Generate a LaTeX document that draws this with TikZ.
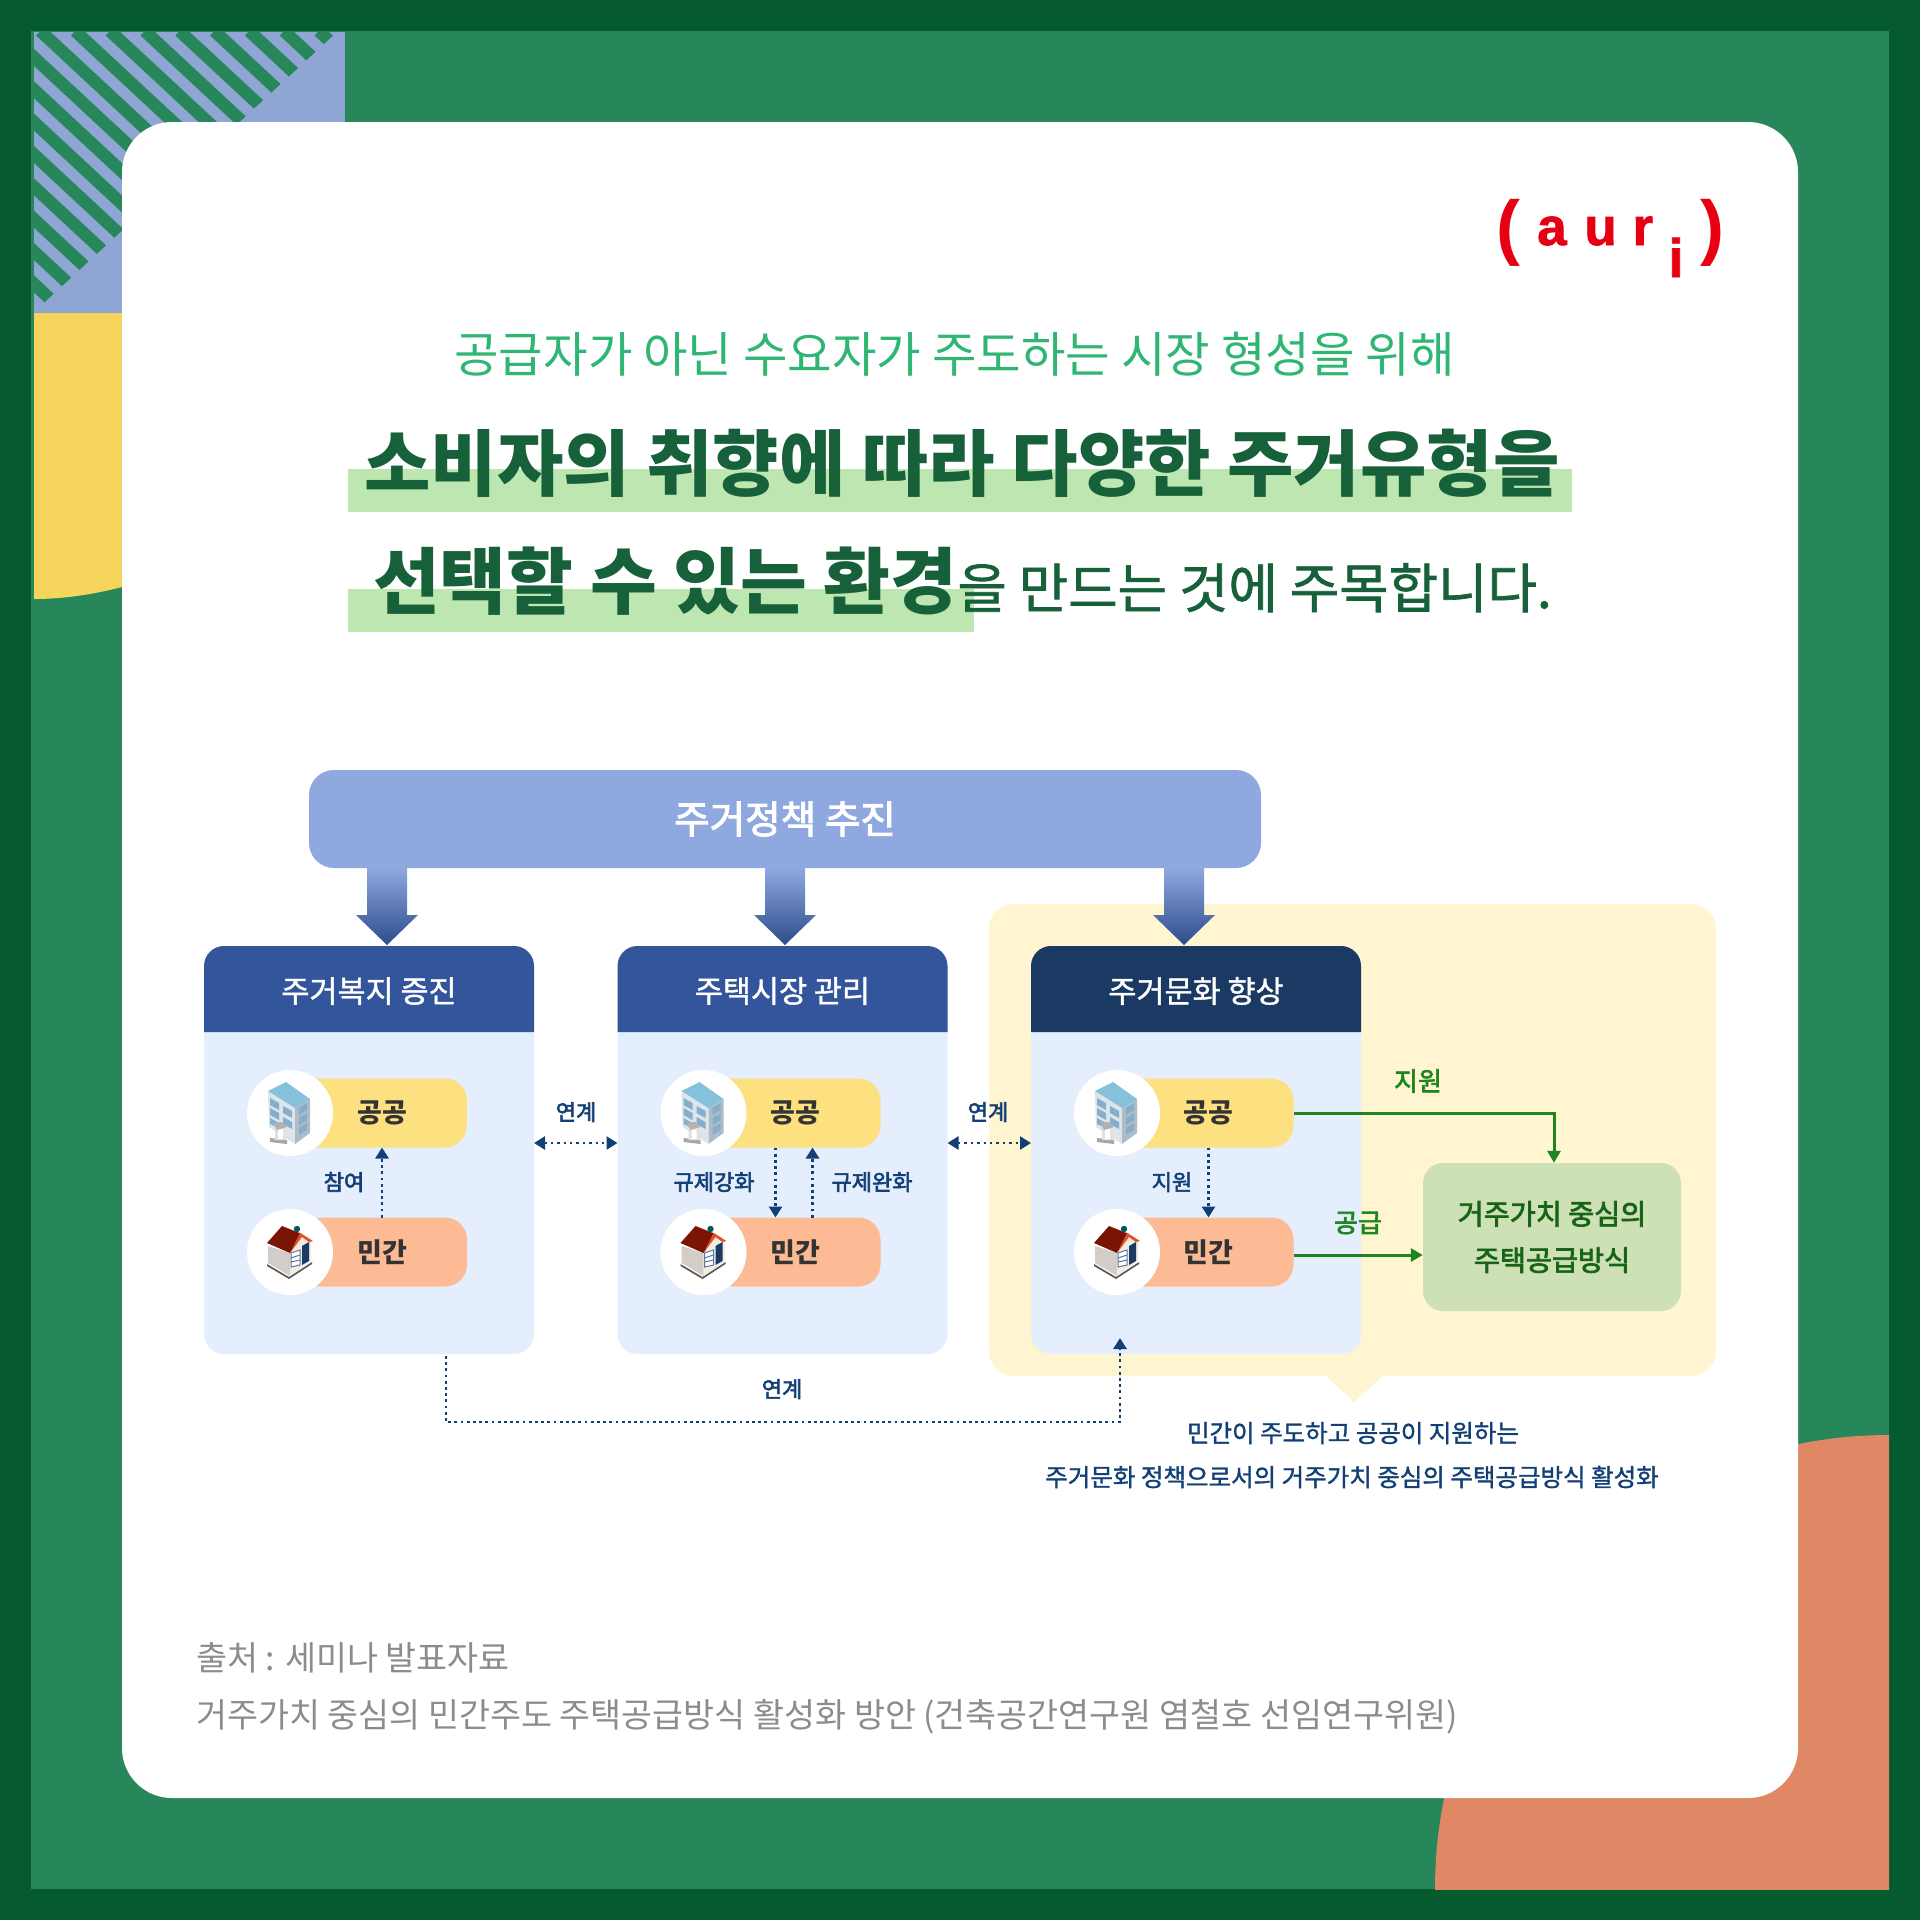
\documentclass[tikz,border=0pt]{standalone}
\usepackage{fontspec}
\usepackage{xcolor}
\setmainfont{Noto Sans CJK KR}
\newfontfamily\medfont[FakeBold=1.3]{Noto Sans CJK KR}
\newfontfamily\semifont[FakeBold=2.6]{Noto Sans CJK KR}
\newfontfamily\logofont{Liberation Sans}
\newfontfamily\logoheavy[FakeBold=1.5]{Liberation Sans Bold}
\usetikzlibrary{arrows.meta,positioning,calc}
\newcommand{\fs}[1]{\fontsize{#1}{#1}\selectfont}
\definecolor{framegreen}{HTML}{055A30}
\definecolor{fieldgreen}{HTML}{28875A}
\definecolor{barblue}{HTML}{8FA8E0}
\definecolor{patchblue}{HTML}{8FA6D4}
\definecolor{patchyellow}{HTML}{F6D55C}
\definecolor{patchorange}{HTML}{E08865}
\definecolor{headblue}{HTML}{32559B}
\definecolor{headnavy}{HTML}{1B3A63}
\definecolor{bodyblue}{HTML}{E5EEFC}
\definecolor{panelyellow}{HTML}{FFF5D0}
\definecolor{pubyellow}{HTML}{FDE080}
\definecolor{prvpeach}{HTML}{FDBB95}
\definecolor{resultgreen}{HTML}{CDE0B6}
\definecolor{markgreen}{HTML}{BDE6B0}
\definecolor{inkgreen}{HTML}{17613A}
\definecolor{leadgreen}{HTML}{2FB673}
\definecolor{arrgreen}{HTML}{1F851F}
\definecolor{navy}{HTML}{123F75}
\definecolor{aurired}{HTML}{E60012}
\definecolor{sourcegray}{HTML}{8C8C8C}
\definecolor{roofsky}{HTML}{85C0DC}
\definecolor{wallpale}{HTML}{DDE5EC}
\definecolor{wallshade}{HTML}{AEBCCA}
\definecolor{winblue}{HTML}{85AECB}
\definecolor{roofdark}{HTML}{7A1505}
\definecolor{rooflight}{HTML}{E5502A}
\definecolor{wallgray}{HTML}{D2CDC8}
\definecolor{wallcream}{HTML}{F3ECE2}

\begin{document}
\begin{tikzpicture}[
  x=1pt, y=-1pt,
  bodybox/.style={fill=bodyblue, rounded corners=20pt, minimum width=330pt, minimum height=408pt, inner sep=0pt, outer sep=0pt},
  headtxt/.style={text=white, font=\medfont\fs{30.5}},
  pill/.style={rounded corners=22pt, minimum width=170pt, minimum height=69pt, inner sep=0pt, outer sep=0pt, text=black!80, font=\fs{27}\bfseries},
  pub/.style={pill, fill=pubyellow},
  prv/.style={pill, fill=prvpeach},
  disc/.style={circle, fill=white, minimum size=86pt, inner sep=0pt},
  lbl/.style={text=navy, font=\semifont\fs{22}, inner sep=0pt},
  glbl/.style={text=arrgreen, font=\semifont\fs{26}, inner sep=0pt},
  dotto/.style={-{Triangle[length=11pt,width=13pt]}, navy, line width=2.8pt, dash pattern=on 2.8pt off 3.4pt},
  dotboth/.style={{Triangle[length=11pt,width=13pt]}-{Triangle[length=11pt,width=13pt]}, navy, line width=2.4pt, dash pattern=on 2.4pt off 4pt},
  garr/.style={-{Triangle[length=12pt,width=13pt]}, arrgreen, line width=3pt},
  bldgicon/.pic={
    \fill[wallpale] (-22,-22) -- (5,-5) -- (5,31) -- (-21,14) -- cycle;
    \fill[wallshade] (5,-5) -- (20,-14) -- (20,20) -- (5,31) -- cycle;
    \fill[roofsky] (-4,-31) -- (20,-14) -- (5,-5) -- (-22,-22) -- cycle;
    \fill[winblue] (-20,-15) -- (-11,-10) -- (-11,-3) -- (-20,-8) -- cycle;
    \fill[winblue] (-7,-7) -- (2,-2) -- (2,5) -- (-7,0) -- cycle;
    \fill[winblue] (-20,-5) -- (-11,0) -- (-11,7) -- (-20,2) -- cycle;
    \fill[winblue] (-7,4) -- (2,9) -- (2,16) -- (-7,11) -- cycle;
    \fill[winblue] (-20,5) -- (-11,10) -- (-11,15) -- (-20,11) -- cycle;
    \fill[winblue] (9,-5) -- (17,-10) -- (17,-3) -- (9,2) -- cycle;
    \fill[winblue] (9,5) -- (17,0) -- (17,7) -- (9,12) -- cycle;
    \fill[winblue] (9,15) -- (17,10) -- (17,17) -- (9,22) -- cycle;
    \fill[black!35] (-20,25) -- (-3,27) -- (-3,31) -- (-20,29) -- cycle;
    \fill[black!12] (-15,15) -- (-4,14) -- (-4,27) -- (-15,27) -- cycle;
    \fill[black!30] (-17,10) -- (-8,9) -- (-3,14) -- (-13,17) -- cycle;
    \fill[white] (-12,17) -- (-7,16) -- (-7,26) -- (-12,26) -- cycle;
  },
  houseicon/.pic={
    \fill[black!65] (-23,12) -- (-1,25) -- (22,10) -- (22,12) -- (-1,27) -- (-23,14) -- cycle;
    \fill[wallgray] (-22,-6) -- (0,1) -- (0,24) -- (-22,11) -- cycle;
    \fill[wallcream] (0,1) -- (12,-17) -- (21,-11) -- (21,9) -- (0,24) -- cycle;
    \fill[roofdark] (-8,-26) -- (-23,-9) -- (0,1) -- (12,-18) -- cycle;
    \fill[rooflight] (-8,-26) -- (12,-18) -- (23,-11) -- (19,-10) -- (12,-15) -- (0,1) -- (10,-19) -- cycle;
    \fill[teal!70!black] (7,-23) circle (3.2);
    \fill[headnavy] (12,-6) -- (19,-10) -- (19,9) -- (12,13) -- cycle;
    \draw[navy!70, fill=white, line width=1pt] (1,1) -- (10,-2) -- (10,13) -- (1,15) -- cycle;
    \draw[navy!70, line width=1pt] (1,6) -- (10,3) (1,10) -- (10,8);
  },
  downarr/.pic={
    \shade[top color=barblue, bottom color=headblue!90!black]
      (-20,0) -- (20,0) -- (20,47) -- (31,47) -- (0,77) -- (-31,47) -- (-20,47) -- cycle;
  }
]
\useasboundingbox (0,0) rectangle (1920,1920);
\fill[framegreen] (0,0) rectangle (1920,1920);
\fill[fieldgreen] (31,31) rectangle (1889,1889);
\fill[patchblue] (34,32) rectangle (345,313);
\begin{scope}
  \clip (34,31) -- (338,31) -- (34,312) -- cycle;
  \foreach \sx in {-238.0,-203.2,...,320}
    \draw[fieldgreen, line width=12.5pt] (\sx,31) -- ++(500,465);
\end{scope}
\fill[patchyellow] (34,313) -- (122,313) -- (122,587) .. controls (95,594) and (65,599) .. (34,599) -- cycle;
\begin{scope}
  \clip (31,31) rectangle (1889,1889);
  \fill[patchorange] (1889,1889) circle (454);
\end{scope}
\fill[white, rounded corners=50pt] (122,122) rectangle (1798,1798);

\node[anchor=base west, inner sep=0pt, text=aurired, font=\logofont\bfseries\fs{72}] (parl) at (1496,251) {(};
\node[anchor=base west, inner sep=0pt, text=aurired, font=\logoheavy\fs{53}] (aur) at (1537,245) {a\hspace{3pt} u\hspace{1pt} r};
\node[anchor=base, inner sep=0pt, text=aurired, font=\logoheavy\fs{54}] (doti) at (1676,277) {i};
\node[anchor=base east, inner sep=0pt, text=aurired, font=\logofont\bfseries\fs{72}] (parr) at (1725,251) {)};

\node[text=leadgreen, font=\fs{48.4}, inner sep=0pt] (lead) at (954.5,354) {공급자가 아닌 수요자가 주도하는 시장 형성을 위해};
\fill[markgreen] (348,469) rectangle (1572,512);
\fill[markgreen] (348,589) rectangle (974,632);
\node[anchor=base, text=inkgreen, font=\fs{72.2}\bfseries, inner sep=0pt] (title) at (962,490) {소비자의 취향에 따라 다양한 주거유형을};
\node[anchor=base west, text=inkgreen, inner sep=0pt] (titleb) at (373,608) {{\fs{72.6}\bfseries 선택할 수 있는 환경}{\medfont\fs{53.7}을 만드는 것에 주목합니다.}};

\fill[panelyellow, rounded corners=25pt] (989,904) rectangle (1716,1376);
\fill[panelyellow] (1325,1375) -- (1354,1402) -- (1384,1375) -- cycle;

\node[fill=barblue, rounded corners=25pt, minimum width=952pt, minimum height=98pt, inner sep=0pt, text=white, font=\semifont\fs{38.6}] (bar) at (785,819) {주거정책 추진};
\pic at (387,868) {downarr};
\pic at (785,868) {downarr};
\pic at (1184,868) {downarr};

\node[bodybox] (box1) at (369,1150) {};
\node[bodybox] (box2) at (782.5,1150) {};
\node[bodybox] (box3) at (1196,1150) {};
\fill[headblue] (204,1032) [rounded corners=20pt] -- (204,946) -- (534,946) [sharp corners] -- (534,1032) -- cycle;
\fill[headblue] (617.5,1032) [rounded corners=20pt] -- (617.5,946) -- (947.5,946) [sharp corners] -- (947.5,1032) -- cycle;
\fill[headnavy] (1031,1032) [rounded corners=20pt] -- (1031,946) -- (1361,946) [sharp corners] -- (1361,1032) -- cycle;
\node[headtxt] (head1) at (369,991) {주거복지 증진};
\node[headtxt] (head2) at (782.5,991) {주택시장 관리};
\node[headtxt] (head3) at (1196,991) {주거문화 향상};

\node[pub] (pub1) at (382,1113) {공공};
\node[prv] (prv1) at (382,1252) {민간};
\node[pub] (pub2) at (795.5,1113) {공공};
\node[prv] (prv2) at (795.5,1252) {민간};
\node[pub] (pub3) at (1208.5,1113) {공공};
\node[prv] (prv3) at (1208.5,1252) {민간};

\node[disc] (bldg1) at (290,1113) {};
\node[disc] (home1) at (290,1252) {};
\node[disc] (bldg2) at (703.5,1113) {};
\node[disc] (home2) at (703.5,1252) {};
\node[disc] (bldg3) at (1117,1113) {};
\node[disc] (home3) at (1117,1252) {};
\pic at (bldg1) {bldgicon};
\pic at (home1) {houseicon};
\pic at (bldg2) {bldgicon};
\pic at (home2) {houseicon};
\pic at (bldg3) {bldgicon};
\pic at (home3) {houseicon};

\node[fill=resultgreen, rounded corners=20pt, minimum width=258pt, minimum height=148pt, inner sep=0pt, align=center, text=arrgreen!75!black, font=\semifont\fs{28.3}] (result) at (1552,1237) {거주가치 중심의\\[18pt]주택공급방식};

\draw[dotto] (prv1.north) -- (pub1.south);
\draw[dotto] ([xshift=-20pt]pub2.south) -- ([xshift=-20pt]prv2.north);
\draw[dotto] ([xshift=17pt]prv2.north) -- ([xshift=17pt]pub2.south);
\draw[dotto] (pub3.south) -- (prv3.north);
\draw[dotboth] (box1.east |- 0,1143) -- (box2.west |- 0,1143);
\draw[dotboth] (box2.east |- 0,1143) -- (box3.west |- 0,1143);
\coordinate (linkstart) at (446,1356);
\coordinate (linkend) at (1120,1338);
\draw[dotto] (linkstart) -- ++(0,66) -| (linkend);
\draw[garr] (pub3.east) -| ([xshift=2pt]result.north);
\draw[garr] (prv3.east |- 0,1255) -- (result.west |- 0,1255);

\node[lbl] (join) at (344,1182) {참여};
\node[lbl] (tight) at (714,1182) {규제강화};
\node[lbl] (ease) at (872,1182) {규제완화};
\node[lbl] (aid) at (1172,1182) {지원};
\node[lbl] (linka) at (576,1112) {연계};
\node[lbl] (linkb) at (988,1112) {연계};
\node[lbl] (linkc) at (782,1389) {연계};
\node[glbl] (gaid) at (1418,1081) {지원};
\node[glbl] (gsup) at (1358,1223) {공급};
\node[text=navy, font=\medfont\fs{24.5}, inner sep=0pt] (notea) at (1353,1433) {민간이 주도하고 공공이 지원하는};
\node[text=navy, font=\medfont\fs{24.5}, inner sep=0pt] (noteb) at (1352,1477) {주거문화 정책으로서의 거주가치 중심의 주택공급방식 활성화};

\node[anchor=west, text=sourcegray, font=\fs{33.7}, inner sep=0pt] (srca) at (196,1658) {출처 : 세미나 발표자료};
\node[anchor=west, text=sourcegray, font=\fs{33.7}, inner sep=0pt] (srcb) at (196,1717) {거주가치 중심의 민간주도 주택공급방식 활성화 방안 (건축공간연구원 염철호 선임연구위원)};
\end{tikzpicture}
\end{document}
